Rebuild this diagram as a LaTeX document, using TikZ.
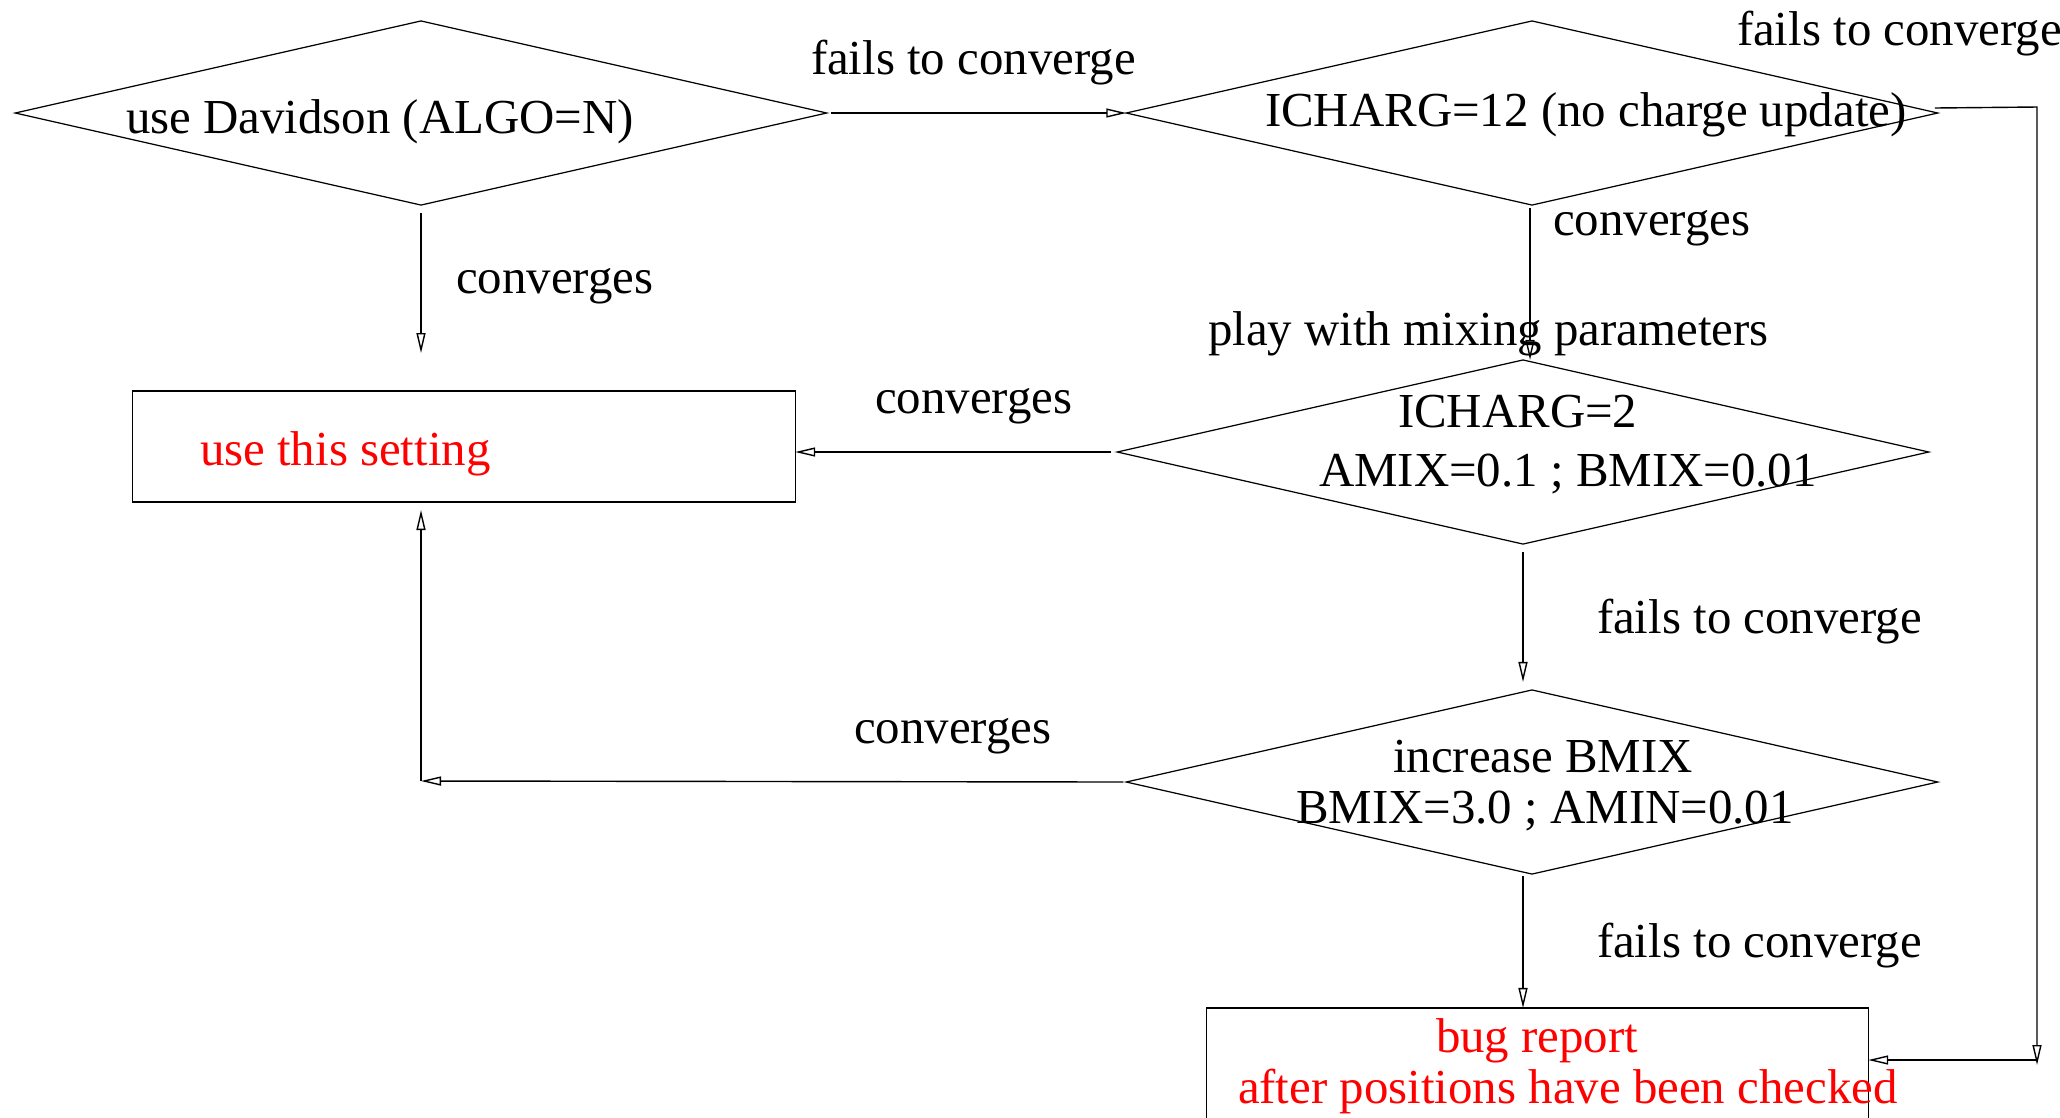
\documentclass[tikz,border=0pt]{standalone}
\usepackage{fontspec}
\setmainfont{Liberation Serif}
\usetikzlibrary{shapes.geometric,arrows.meta,calc}
\begin{document}
\begin{tikzpicture}[x=0.01cm,y=-0.01cm,
  dia/.style={draw, diamond, minimum width=8.11cm, minimum height=1.84cm, inner sep=0pt, outer sep=0pt, line width=0.35pt},
  box/.style={draw, rectangle, inner sep=0pt, outer sep=0pt, line width=0.35pt},
  txt/.style={anchor=base west, inner sep=0pt, outer sep=0pt, font=\fontsize{13.9pt}{16pt}\selectfont},
  redtxt/.style={txt, text=red},
  arr/.style={line width=0.4pt, -{Triangle[open,length=0.2cm,width=0.09cm]}},
  ln/.style={line width=0.4pt}]
\useasboundingbox (0,0) rectangle (2060,1117);
\clip (0,0) rectangle (2060,1117);
% shapes
\node[dia] (d1) at (421,113) {};
\node[dia] (d2) at (1532,113) {};
\node[dia] (d3) at (1523,452) {};
\node[dia] (d4) at (1532,782) {};
\node[box, minimum width=6.62cm, minimum height=1.11cm] (b1) at (464,446.5) {};
\node[box, minimum width=6.61cm, minimum height=1.6cm] (b2) at (1537.5,1088) {};
% texts in shapes
\node[txt] (t1) at (126,133) {use Davidson (ALGO=N)};
\node[txt] (t2) at (1265,126) {ICHARG=12 (no charge update)};
\node[txt] (t3a) at (1398,427) {ICHARG=2};
\node[txt] (t3b) at (1319,486) {AMIX=0.1 ; BMIX=0.01};
\node[txt] (t4a) at (1393,772) {increase BMIX};
\node[txt] (t4b) at (1296,823) {BMIX=3.0 ; AMIN=0.01};
\node[redtxt] (t5) at (200,465) {use this setting};
\node[redtxt] (t6a) at (1436,1052) {bug report};
\node[redtxt] (t6b) at (1238,1103) {after positions have been checked};
% labels
\node[txt] (l1) at (811,74) {fails to converge};
\node[txt] (l2) at (1737,45) {fails to converge};
\node[txt] (l3) at (456,293) {converges};
\node[txt] (l4) at (1553,235) {converges};
\node[txt] (l5) at (1208,345) {play with mixing parameters};
\node[txt] (l6) at (875,413) {converges};
\node[txt] (l7) at (1597,633) {fails to converge};
\node[txt] (l8) at (854,743) {converges};
\node[txt] (l9) at (1597,957) {fails to converge};
% free ends
\coordinate (c1) at (421,353);
\coordinate (c2) at (2037,107);
\coordinate (c3) at (2037,1065);
\coordinate (c4) at (2037,1060);
\coordinate (c5) at (421,781);
% connectors
\draw[arr] ($(d1.east)+(4,0)$) -- (d2.west);
\draw[arr] ($(d1.south)+(0,8)$) -- (c1);
\draw[arr] ($(d2.south)+(-2,3)$) -- ($(d2.south |- d3.north)+(-2,0)$);
\draw[arr] ($(d2.east)+(-3,-5)$) -- (c2) -- (c3);
\draw[arr] (c4) -- (b2.east |- c4);
\draw[arr] ($(d3.west)+(-6,0)$) -- (b1.east |- d3.west);
\draw[arr] ($(d3.south)+(0,8)$) -- ($(d3.south |- d4.north)+(0,-8)$);
\draw[arr] ($(d4.west)+(-3,0)$) -- (c5);
\draw[arr] (c5) -- ($(c5 |- b1.south)+(0,8)$);
\draw[arr] ($(d3.south |- d4.south)+(0,2)$) -- (d3.south |- b2.north);
\end{tikzpicture}
\end{document}
